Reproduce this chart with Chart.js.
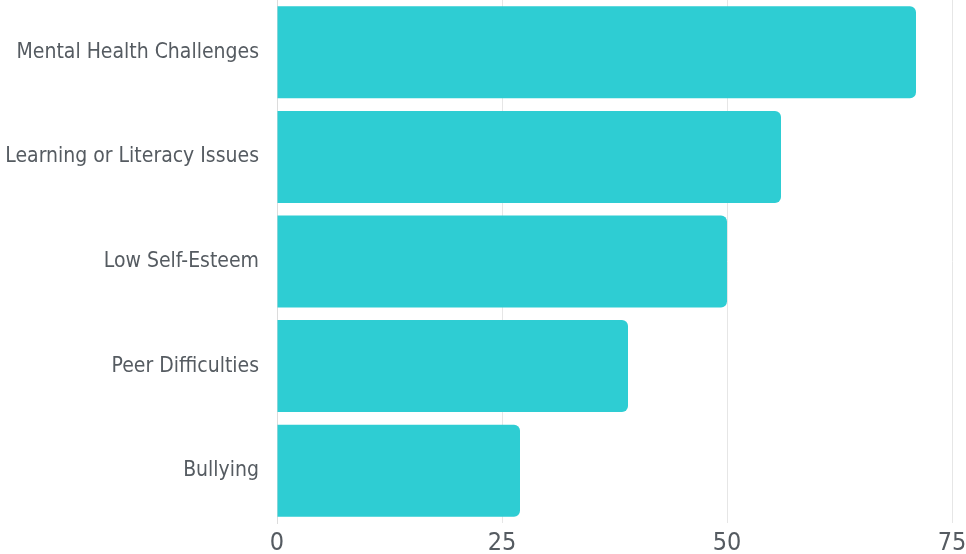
<!DOCTYPE html>
<html>
<head>
<meta charset="utf-8">
<script src="https://cdn.jsdelivr.net/npm/chart.js@4/dist/chart.umd.min.js"></script>
<style>
html,body{margin:0;padding:0;background:#fff;}
#wrap{width:966px;height:554px;position:relative;}
</style>
</head>
<body>
<div id="wrap"><canvas id="c"></canvas></div>
<script>
const categories = ["Mental Health Challenges","Learning or Literacy Issues","Low Self-Esteem","Peer Difficulties","Bullying"];
const values = [71, 56, 50, 39, 27];
const xTicks = [0, 25, 50, 75];

const FONT = "'Liberation Sans Narrow','DejaVu Sans Condensed',sans-serif";
const TEXT = "#555b61";

new Chart(document.getElementById('c'), {
  type: 'bar',
  data: {
    labels: categories,
    datasets: [{
      data: values,
      backgroundColor: '#2ecdd3',
      borderRadius: 6,
      barPercentage: 0.88,
      categoryPercentage: 1.0
    }]
  },
  options: {
    indexAxis: 'y',
    responsive: true,
    maintainAspectRatio: false,
    animation: false,
    layout: { padding: { top: 0, right: 0, bottom: 0, left: 0 } },
    plugins: { legend: { display: false }, tooltip: { enabled: false } },
    scales: {
      x: {
        min: 0, max: 75,
        afterBuildTicks: (axis) => { axis.ticks = xTicks.map(v => ({ value: v })); },
        grid: { color: '#e6e6e6', drawTicks: false },
        border: { display: false },
        ticks: { color: TEXT, font: { family: FONT, size: 25 }, padding: 5, maxRotation: 0 },
        afterFit: (axis) => { axis.height = 31; axis.paddingRight = 14; axis.paddingLeft = 0; }
      },
      y: {
        grid: { display: false, drawTicks: false },
        border: { display: true, color: '#dcdcdc', width: 1 },
        ticks: { color: TEXT, font: { family: FONT, size: 21 }, padding: 18 },
        afterFit: (axis) => { axis.width = 277; axis.paddingTop = 0; axis.paddingBottom = 0; }
      }
    }
  }
});
</script>
</body>
</html>
